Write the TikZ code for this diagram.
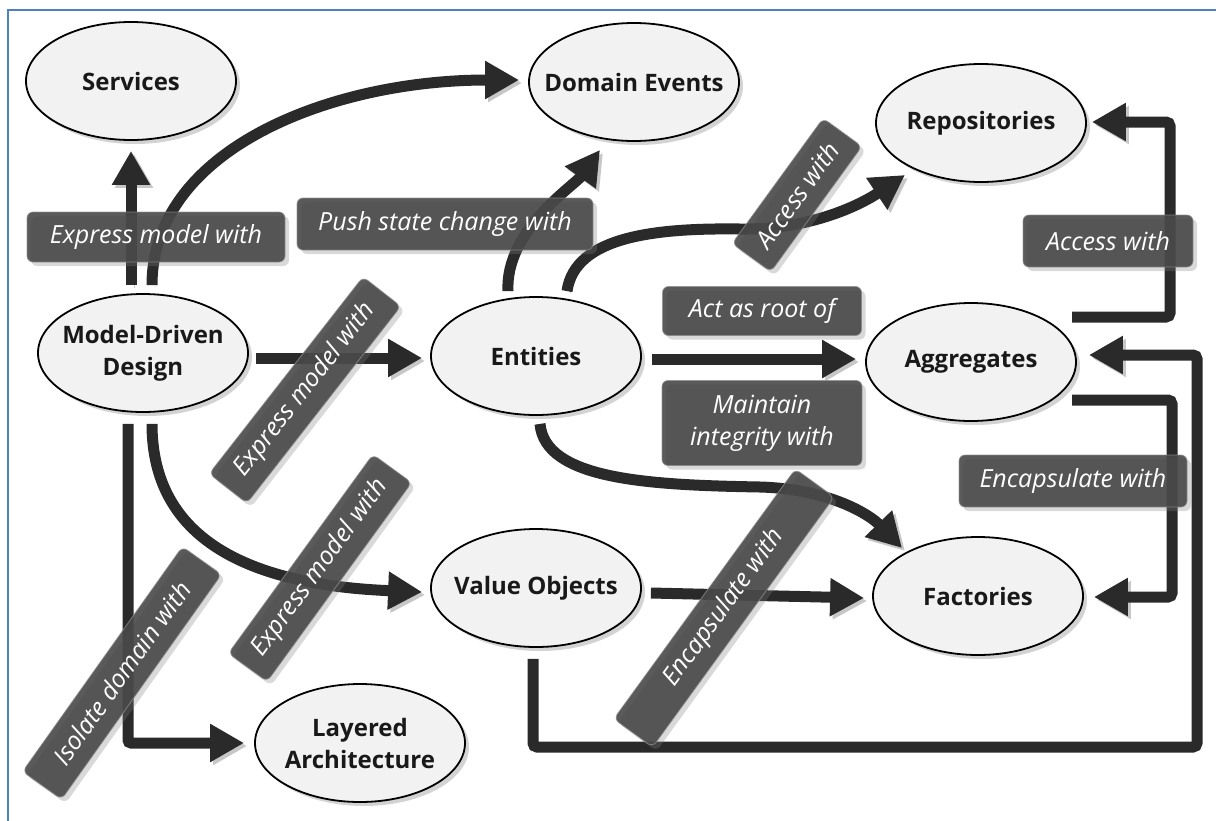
\documentclass[tikz,border=0pt]{standalone}
\usepackage{fontspec}
\setmainfont{Open Sans}
\usetikzlibrary{arrows.meta,shadows,calc,shapes.geometric}
\definecolor{conncol}{HTML}{2A2A2A}
\definecolor{ellfill}{HTML}{F2F2F2}
\definecolor{labfill}{HTML}{484848}
\definecolor{framecol}{HTML}{4F81BD}
\tikzset{
 concept/.style={ellipse, draw=black, line width=1.8pt, fill=ellfill,
   minimum width=210pt, minimum height=118pt, inner xsep=-40pt, inner ysep=-12pt, align=center,
   font=\fontsize{24}{32}\selectfont\bfseries, text=black!90,
   drop shadow={shadow xshift=4pt, shadow yshift=-4pt, opacity=0.35}},
 lab/.style={rounded corners=6pt, fill=labfill, fill opacity=0.9, text opacity=1,
   text=white, draw=black!45, line width=0.8pt, draw opacity=0.8, align=center,
   font=\fontsize{25}{32}\selectfont\itshape, inner sep=0pt,
   drop shadow={shadow xshift=4pt, shadow yshift=-4pt, opacity=0.3}},
 conn/.style={draw=conncol, line width=11pt, -{Triangle[width=36pt,length=34pt]},
   preaction={draw=black!22, transform canvas={xshift=3pt,yshift=-3pt}}},
}
\begin{document}
\begin{tikzpicture}[x=1pt,y=-1pt]
\useasboundingbox (0,0) rectangle (1216,820);
\draw[framecol, line width=2pt] (8,824) -- (8,10) -- (1220,10);

% concepts
\node[concept] (srv) at (131,81) {Services};
\node[concept] (de) at (634,82) {Domain Events};
\node[concept] (rep) at (981,123) {Repositories};
\node[concept] (agg) at (971,362) {Aggregates};
\node[concept] (fac) at (978,596) {Factories};
\node[concept] (mdd) at (143,353) {Model-Driven\\Design};
\node[concept] (ent) at (536,356) {Entities};
\node[concept] (vo) at (536,588) {Value Objects};
\node[concept] (la) at (360,743) {Layered\\Architecture};

% connectors
\draw[conn] ($(mdd.north)+(-12,-8)$) -- ($(srv.south)+(0,10)$);
\draw[conn] ($(mdd.north)+(9,-8)$) .. controls (152,150) and (330,80) .. ($(de.west)+(-9,-2)$);
\draw[conn] ($(ent.north)+(-28,-5)$) .. controls (505,230) and (575,185) .. ($(de.south)+(-34,8)$);
\draw[conn] ($(ent.north)+(31,-5)$) .. controls (575,235) and (660,228) .. (740,229)
   .. controls (810,230) and (860,205) .. ($(rep.center)+(-76,52)$);
\draw[conn] ($(mdd.east)+(7,5)$) -- ($(ent.west)+(-8,2)$);
\draw[conn] ($(mdd.south)+(9,11)$) .. controls (152,540) and (250,585) .. ($(vo.west)+(-8,4)$);
\draw[conn, rounded corners=3pt] ($(mdd.south)+(-15,11)$) |- ($(la.west)+(-10,0)$);
\draw[conn] ($(ent.east)+(10,3)$) -- ($(agg.west)+(-9,-3)$);
\draw[conn] ($(ent.south)+(4,8)$) .. controls (545,480) and (650,485) .. (760,487)
   .. controls (830,489) and (870,515) .. ($(fac.center)+(-76,-48)$);
\draw[conn] ($(vo.east)+(9,5)$) -- ($(fac.west)+(-8,2)$);
\draw[conn, rounded corners=4pt] ($(vo.south)+(-3,11)$) |- (1197,747) |- ($(agg.east)+(12,-7)$);
\draw[conn, rounded corners=4pt] ($(agg.center)+(101,-45)$) -| (1170,122) -- ($(rep.east)+(5,-1)$);
\draw[conn, rounded corners=4pt] ($(agg.center)+(101,38)$) -| (1172,597) -- ($(fac.east)+(10,1)$);

% labels
\node[lab, minimum width=258pt, minimum height=50pt] (l1) at (156,237) {Express model with};
\node[lab, minimum width=296pt, minimum height=52pt] (l2) at (445,224) {Push state change with};
\node[lab, rotate=54, minimum width=155pt, minimum height=48pt] (l3) at (797,195) {Access with};
\node[lab, minimum width=170pt, minimum height=52pt] (l4) at (1108,241) {Access with};
\node[lab, minimum width=199pt, minimum height=49pt] (l5) at (762,311) {Act as root of};
\node[lab, minimum width=200pt, minimum height=85pt] (l6) at (762,423) {Maintain\\integrity with};
\node[lab, rotate=52, minimum width=250pt, minimum height=48pt] (l7) at (305,390) {Express model with};
\node[lab, rotate=54, minimum width=246pt, minimum height=48pt] (l8) at (320,568) {Express model with};
\node[lab, rotate=54.6, minimum width=276pt, minimum height=48pt] (l9) at (122,673) {Isolate domain with};
\node[lab, rotate=54, minimum width=309pt, minimum height=48pt] (l10) at (724,608) {Encapsulate with};
\node[lab, minimum width=228pt, minimum height=52pt] (l11) at (1073,481) {Encapsulate with};
\end{tikzpicture}
\end{document}
